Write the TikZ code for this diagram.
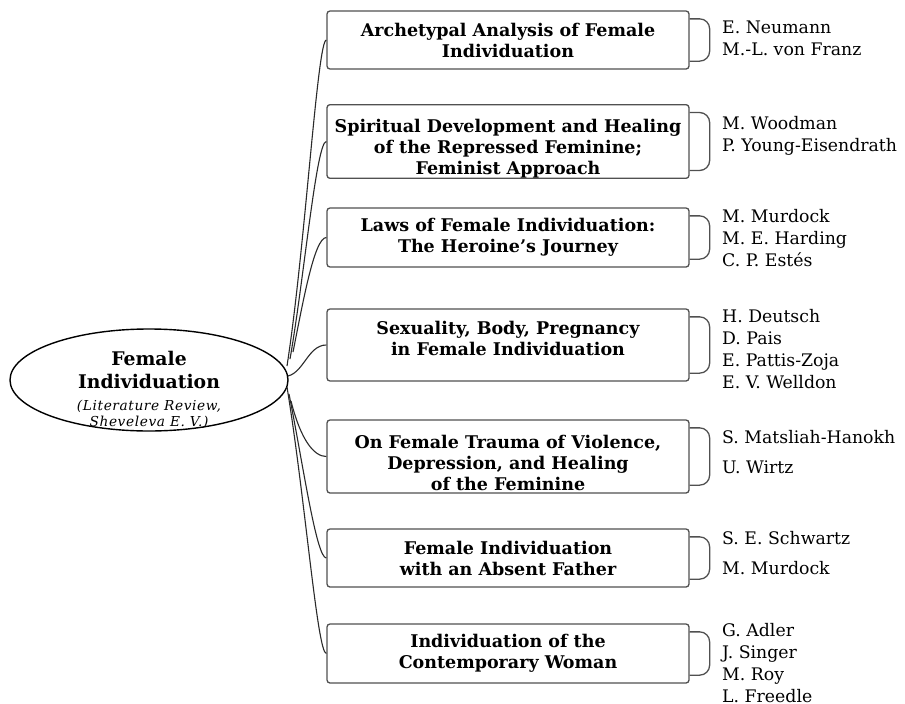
\documentclass[tikz,border=0pt]{standalone}
\usepackage{fontspec}
\setmainfont{DejaVu Serif}
\usetikzlibrary{shapes.geometric}
\definecolor{boxgray}{HTML}{505050}
\definecolor{linegray}{HTML}{2a2a2a}
\newcommand{\rootbig}{\bfseries\fontsize{18.8}{23}\selectfont}
\newcommand{\rootsmall}{\mdseries\itshape\fontsize{13.7}{16}\selectfont\addfontfeatures{LetterSpace=4.5}}
\newcommand{\padtop}[1]{\rule{0pt}{#1}}
\newcommand{\padbot}[1]{\rule[-#1]{0pt}{0pt}}
\begin{document}
\begin{tikzpicture}[x=1pt,y=-1pt,
  box/.style={draw=boxgray, line width=1.3pt, rounded corners=3pt, minimum width=362pt, align=center, font=\bfseries\fontsize{17.5}{21}\selectfont, inner sep=0pt},
  names/.style={anchor=west, align=left, inner sep=0pt, font=\fontsize{17.3}{22}\selectfont},
  link/.style={draw=linegray, line width=1.1pt},
  brace/.style={draw=boxgray, line width=1.3pt, rounded corners=10pt}]
\useasboundingbox (0,0) rectangle (905,704);
\fill[white] (0,0) rectangle (905,704);

% root
\node[ellipse, draw=black, line width=1.4pt, minimum width=278pt, minimum height=102pt, inner sep=0pt] (root) at (149,380) {};
\node[align=center, inner sep=0pt, font=\rootbig] (roottext) at (149,390) {Female\\Individuation\\[-1pt]{\rootsmall (Literature Review,}\\[-7pt]{\rootsmall Sheveleva E. V.)}};

% boxes
\node[box, minimum height=58pt] (b1) at (508,40) {Archetypal Analysis of Female\\Individuation};
\node[box, minimum height=73pt] (b2) at (508,141.5) {\padtop{28pt}Spiritual Development and Healing\\of the Repressed Feminine;\\Feminist Approach};
\node[box, minimum height=59pt] (b3) at (508,237.5) {Laws of Female Individuation:\\The Heroine's Journey};
\node[box, minimum height=72pt] (b4) at (508,345) {Sexuality, Body, Pregnancy\\in Female Individuation\padbot{14pt}};
\node[box, minimum height=73pt] (b5) at (508,456.5) {\padtop{26pt}On Female Trauma of Violence,\\Depression, and Healing\\of the Feminine};
\node[box, minimum height=58pt] (b6) at (508,558) {Female Individuation\\with an Absent Father};
\node[box, minimum height=59pt] (b7) at (508,653.5) {Individuation of the\\Contemporary Woman};

% names
\node[names] (n1) at (722,38.5) {E. Neumann\\M.-L. von Franz};
\node[names] (n2) at (722,135.5) {M. Woodman\\P. Young-Eisendrath};
\node[names] (n3) at (722,238.5) {M. Murdock\\M. E. Harding\\C. P. Estés};
\node[names] (n4) at (722,349) {H. Deutsch\\D. Pais\\E. Pattis-Zoja\\E. V. Welldon};
\node[names] (n5) at (722,452) {S. Matsliah-Hanokh\\[8pt]U. Wirtz};
\node[names] (n6) at (722,553) {S. E. Schwartz\\[8pt]M. Murdock};
\node[names] (n7) at (722,663) {G. Adler\\J. Singer\\M. Roy\\L. Freedle};

% braces
\foreach \b in {b1,b2,b3,b4,b5,b6,b7}{
  \draw[brace] ([yshift=-8.5pt]\b.north east) -- ++(20,0) |- ([yshift=8.5pt]\b.south east);
}

% connector start points
\coordinate (o1) at (287,366);
\coordinate (o2) at (290,359);
\coordinate (o3) at (293,352);
\coordinate (o4) at (288,376);
\coordinate (o5) at (291,401);
\coordinate (o6) at (289,394);
\coordinate (o7) at (287,387);

\draw[link] (o1) .. controls +(18,-116) and +(-9,0) .. (b1.west);
\draw[link] (o2) .. controls +(14,-80) and +(-10,0) .. (b2.west);
\draw[link] (o3) .. controls +(10,-50) and +(-12,0) .. (b3.west);
\draw[link] (o4) .. controls +(16,-4) and +(-18,0) .. (b4.west);
\draw[link] (o5) .. controls +(10,40) and +(-12,0) .. (b5.west);
\draw[link] (o6) .. controls +(14,70) and +(-10,0) .. (b6.west);
\draw[link] (o7) .. controls +(18,110) and +(-9,0) .. (b7.west);
\end{tikzpicture}
\end{document}
